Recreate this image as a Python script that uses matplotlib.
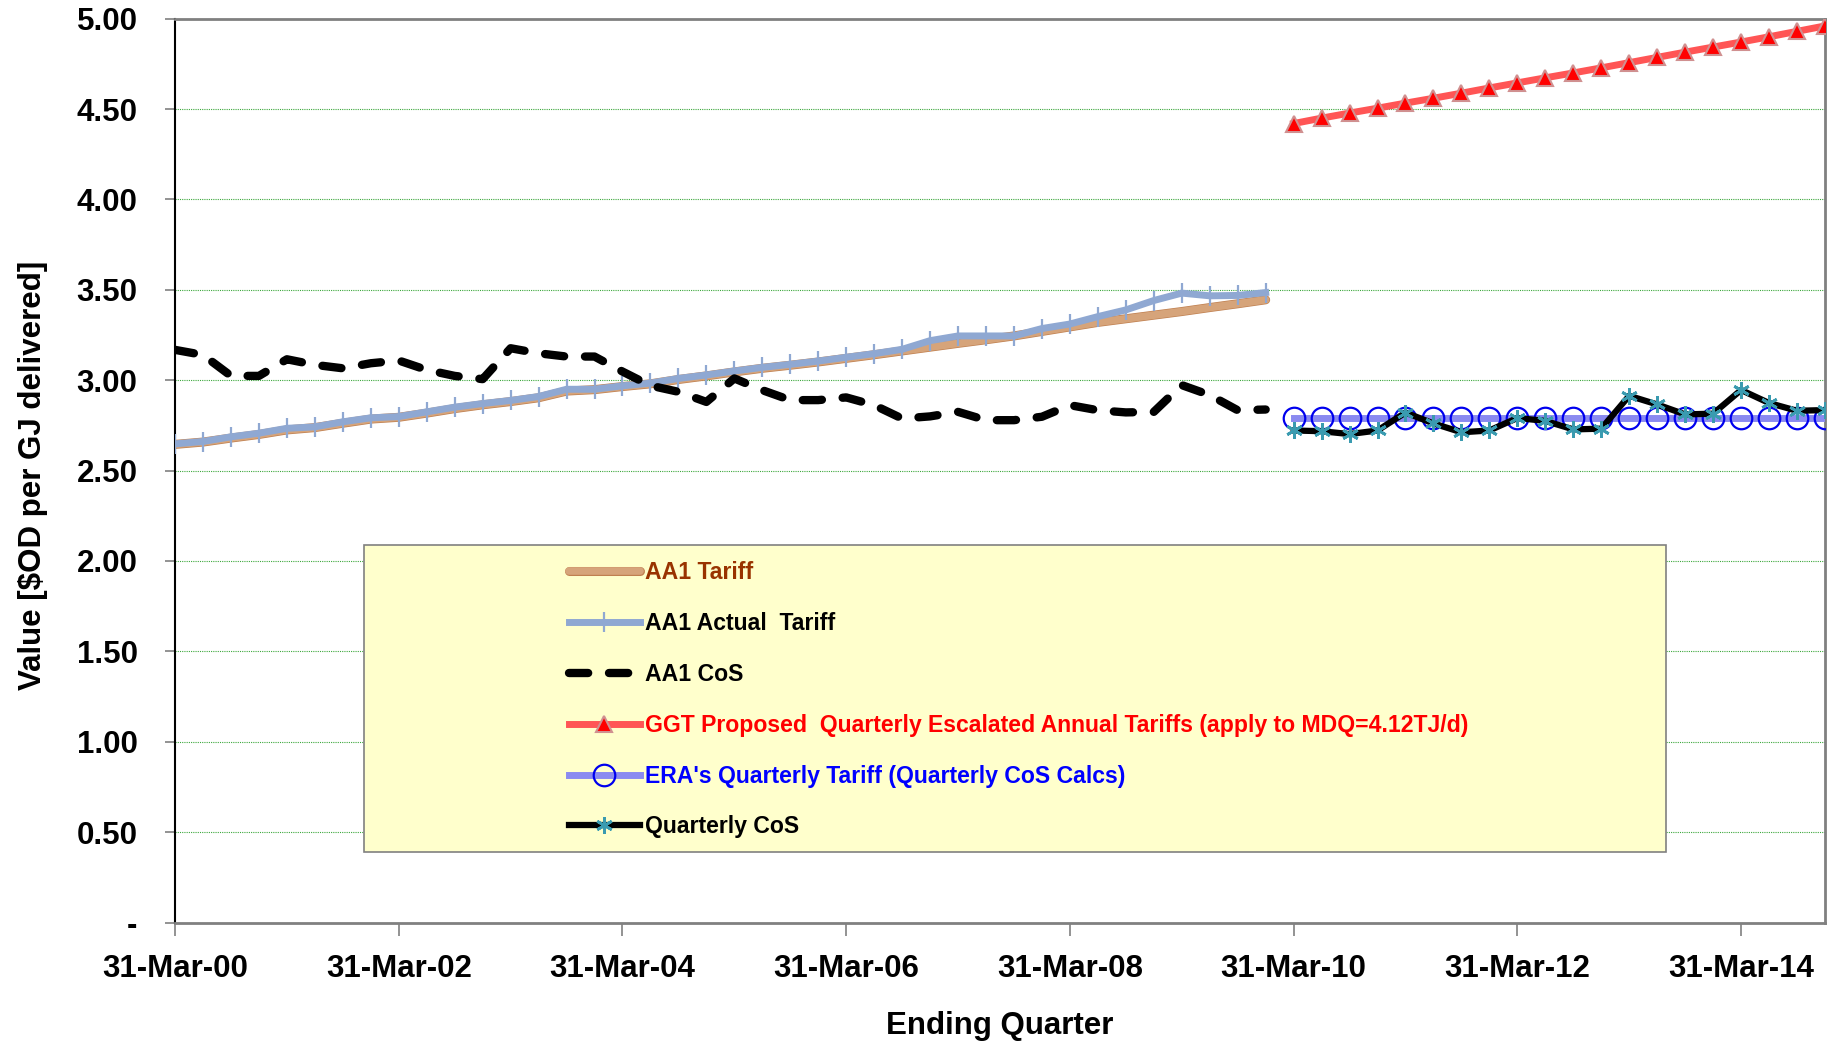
import numpy as np
import matplotlib
matplotlib.use("Agg")
import matplotlib.pyplot as plt
from matplotlib.patches import Rectangle
from matplotlib.ticker import FuncFormatter
import matplotlib.patheffects as pe

plt.rcParams['font.family'] = ['Liberation Sans', 'DejaVu Sans']
plt.rcParams['font.weight'] = 'bold'

# quarter index 0 = 31-Mar-00
tick_pos = [0, 8, 16, 24, 32, 40, 48, 56]
tick_labels = ['31-Mar-00', '31-Mar-02', '31-Mar-04', '31-Mar-06',
               '31-Mar-08', '31-Mar-10', '31-Mar-12', '31-Mar-14']

# AA1 period, quarters 0..39
aa1_tariff = [2.645, 2.658, 2.680, 2.700, 2.725, 2.738, 2.762, 2.785, 2.795, 2.818,
              2.843, 2.864, 2.882, 2.903, 2.940, 2.948, 2.965, 2.980, 3.004, 3.024,
              3.046, 3.066, 3.083, 3.101, 3.121, 3.141, 3.162, 3.183, 3.204, 3.224,
              3.245, 3.270, 3.295, 3.320, 3.340, 3.360, 3.380, 3.402, 3.423, 3.445]
aa1_actual = [2.648, 2.661, 2.687, 2.707, 2.734, 2.742, 2.770, 2.792, 2.799, 2.825,
              2.851, 2.871, 2.888, 2.910, 2.950, 2.950, 2.969, 2.984, 3.010, 3.029,
              3.051, 3.071, 3.088, 3.106, 3.127, 3.147, 3.171, 3.219, 3.245, 3.245,
              3.245, 3.286, 3.311, 3.352, 3.389, 3.441, 3.482, 3.467, 3.469, 3.485]
aa1_cos = [3.168, 3.140, 3.024, 3.024, 3.116, 3.085, 3.066, 3.094, 3.109, 3.057,
           3.024, 3.006, 3.177, 3.149, 3.131, 3.131, 3.048, 2.970, 2.936, 2.880,
           3.010, 2.945, 2.890, 2.890, 2.905, 2.862, 2.788, 2.800, 2.825, 2.779,
           2.779, 2.798, 2.862, 2.834, 2.822, 2.825, 2.973, 2.918, 2.834, 2.838]

# AA2 period, quarters 40..59
ggt_proposed = [4.420, 4.450, 4.478, 4.505, 4.533, 4.560, 4.588, 4.617, 4.645, 4.673,
                4.700, 4.728, 4.757, 4.786, 4.815, 4.843, 4.871, 4.900, 4.930, 4.960]
era_tariff = [2.79] * 20
quarterly_cos = [2.722, 2.718, 2.702, 2.722, 2.821, 2.761, 2.712, 2.722, 2.791, 2.775,
                 2.728, 2.732, 2.914, 2.866, 2.811, 2.815, 2.946, 2.874, 2.831, 2.835]

q_aa1 = np.arange(len(aa1_tariff))
q_aa2 = np.arange(40, 40 + len(ggt_proposed))

fig = plt.figure(figsize=(18.31, 10.45), dpi=100)
ax = fig.add_axes([0.0956, 0.1172, 0.9011, 0.8649])

ax.plot(q_aa1, aa1_tariff, color='#D6A47A', lw=5.5, solid_capstyle='round',
        path_effects=[pe.Stroke(linewidth=6.5, foreground='#C08050'), pe.Normal()],
        label='AA1 Tariff', zorder=3)
ax.plot(q_aa1, aa1_actual, color='#8FA8D2', lw=5, marker='|', ms=14, mew=1.6,
        label='AA1 Actual  Tariff', zorder=4)
ax.plot(q_aa1, aa1_cos, color='black', lw=6, linestyle=(0, (2.3, 2.5)),
        dash_capstyle='round', label='AA1 CoS', zorder=5)
ax.plot(q_aa2, ggt_proposed, color='#FF5555', lw=5, marker='^', ms=12,
        mfc='#FF0000', mec='#D09090', mew=1.5,
        label='GGT Proposed  Quarterly Escalated Annual Tariffs (apply to MDQ=4.12TJ/d)',
        zorder=4)
ax.plot(q_aa2, era_tariff, color='#8A8AF0', lw=5, marker='o', ms=15.5,
        mfc='none', mec='#0000EE', mew=1.6,
        label="ERA's Quarterly Tariff (Quarterly CoS Calcs)", zorder=4)
ax.plot(q_aa2, quarterly_cos, color='black', lw=4.5, marker=(6, 2, 0), ms=12,
        mec='#3A9BB0', mew=2, label='Quarterly CoS', zorder=6)

ax.set_xlim(0, 59)
ax.set_ylim(0, 5)
ax.set_xticks(tick_pos)
ax.set_xticklabels(tick_labels)
ax.set_yticks(np.arange(0, 5.01, 0.5))
ax.yaxis.set_major_formatter(FuncFormatter(lambda v, p: '-' if abs(v) < 1e-9 else f'{v:.2f}'))
ax.tick_params(axis='both', labelsize=22.5, direction='out', color='#808080', width=1.2)
ax.tick_params(axis='x', length=9, pad=14)
ax.tick_params(axis='y', length=7, pad=20)
for t in ax.get_xticklabels() + ax.get_yticklabels():
    t.set_fontweight('bold')

ax.grid(axis='y', color='#3CA83C', linestyle=(0, (1, 1)), lw=0.8)
ax.set_axisbelow(True)

ax.spines['left'].set_color('black')
ax.spines['left'].set_linewidth(1.5)
for s in ['top', 'right', 'bottom']:
    ax.spines[s].set_color('#808080')
    ax.spines[s].set_linewidth(2)

ax.set_xlabel('Ending Quarter', fontsize=22.5, fontweight='bold')
ax.set_ylabel('Value [$OD per GJ delivered]', fontsize=22.5, fontweight='bold')
ax.xaxis.set_label_coords(0.5, -0.098)
ax.yaxis.set_label_coords(-0.077, 0.495)

# legend box
ax.add_patch(Rectangle((0.1147, 0.0775), 0.789, 0.3398, transform=ax.transAxes,
                       facecolor='#FFFFCC', edgecolor='#808080', lw=1.2, zorder=7))
leg = ax.legend(loc='upper left', bbox_to_anchor=(0.2385, 0.400), frameon=False,
                fontsize=16.6, numpoints=1, handlelength=3.1, handletextpad=0.2,
                labelspacing=1.21, borderpad=0, borderaxespad=0)
leg.set_zorder(8)
text_colors = ['#993300', 'black', 'black', '#FF0000', '#0000FF', 'black']
for t, c in zip(leg.get_texts(), text_colors):
    t.set_color(c)
    t.set_fontweight('bold')

fig.savefig('out.png', dpi=100)
